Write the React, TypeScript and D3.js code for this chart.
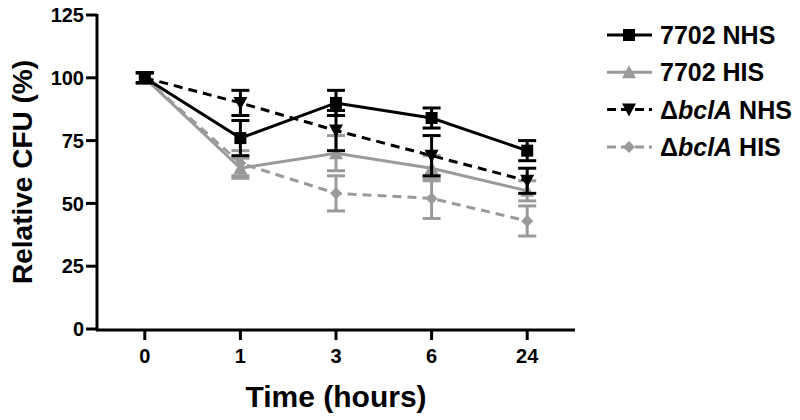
import React from 'react';
import * as d3 from 'd3';

const TIMES = ['0', '1', '3', '6', '24'];
const Y_TICKS = [0, 25, 50, 75, 100, 125];

const NHS_7702 = [100, 76, 90, 84, 71];
const NHS_7702_ERR = [2, 7, 5, 4, 4];
const HIS_7702 = [100, 64, 70, 64, 55];
const HIS_7702_ERR = [2, 4, 7, 5, 4];
const NHS_BCLA = [100, 90, 79, 69, 59];
const NHS_BCLA_ERR = [2, 5, 8, 8, 5];
const HIS_BCLA = [100, 66, 54, 52, 43];
const HIS_BCLA_ERR = [2, 5, 7, 8, 6];

const FONT = 'Arial, "Liberation Sans", Helvetica, sans-serif';
const GRAY = '#9a9a9a';

const SERIES = [
  { key: 'hisB', values: HIS_BCLA, err: HIS_BCLA_ERR, color: GRAY, dash: '9,6', marker: 'diamond', prefix: true, label: ' HIS' },
  { key: 'his7', values: HIS_7702, err: HIS_7702_ERR, color: GRAY, dash: null, marker: 'triangle', prefix: false, label: '7702 HIS' },
  { key: 'nhsB', values: NHS_BCLA, err: NHS_BCLA_ERR, color: '#000', dash: '9,6', marker: 'triangleDown', prefix: true, label: ' NHS' },
  { key: 'nhs7', values: NHS_7702, err: NHS_7702_ERR, color: '#000', dash: null, marker: 'square', prefix: false, label: '7702 NHS' },
];
const LEGEND_ORDER = ['nhs7', 'his7', 'nhsB', 'hisB'];

const X0 = 97, X1 = 575, Y0 = 329, Y1 = 15;

const x = d3.scalePoint<string>().domain(TIMES).range([X0, X1]).padding(0.5);
const y = d3.scaleLinear().domain([0, 125]).range([Y0, Y1]);

const Marker = ({ type, cx, cy, color }: { type: string; cx: number; cy: number; color: string }) => {
  if (type === 'square') return <rect x={cx - 6} y={cy - 6} width={12} height={12} fill={color} />;
  if (type === 'triangle') return <path d={`M${cx},${cy - 7}L${cx + 7},${cy + 6}L${cx - 7},${cy + 6}Z`} fill={color} />;
  if (type === 'triangleDown') return <path d={`M${cx},${cy + 7}L${cx + 7},${cy - 6}L${cx - 7},${cy - 6}Z`} fill={color} />;
  return <path d={`M${cx},${cy - 6}L${cx + 6},${cy}L${cx},${cy + 6}L${cx - 6},${cy}Z`} fill={color} />;
};

export default function App() {
  const line = d3.line<number>().x((_, i) => x(TIMES[i]) as number).y((d) => y(d));
  return (
    <svg width={800} height={420} style={{ position: 'absolute', left: 0, top: 0, background: '#fff' }} fontFamily={FONT}>
      {/* series */}
      {SERIES.map((s) => (
        <g key={s.key}>
          {s.values.map((v, i) => {
            const cx = x(TIMES[i]) as number;
            const lo = y(v - s.err[i]);
            const hi = y(v + s.err[i]);
            return (
              <g key={i} stroke={s.color} strokeWidth={3}>
                <line x1={cx} x2={cx} y1={lo} y2={hi} />
                <line x1={cx - 9} x2={cx + 9} y1={lo} y2={lo} />
                <line x1={cx - 9} x2={cx + 9} y1={hi} y2={hi} />
              </g>
            );
          })}
          <path d={line(s.values) || ''} fill="none" stroke={s.color} strokeWidth={3} strokeDasharray={s.dash || undefined} />
          {s.values.map((v, i) => (
            <Marker key={i} type={s.marker} cx={x(TIMES[i]) as number} cy={y(v)} color={s.color} />
          ))}
        </g>
      ))}

      {/* y axis */}
      <line x1={X0} x2={X0} y1={Y1 - 1} y2={Y0 + 2} stroke="#000" strokeWidth={3} />
      {Y_TICKS.map((t) => (
        <g key={t}>
          <line x1={X0 - 11} x2={X0} y1={y(t)} y2={y(t)} stroke="#000" strokeWidth={3} />
          <text x={X0 - 13} y={y(t)} dy="0.36em" textAnchor="end" fontSize={20} fontWeight="bold">{t}</text>
        </g>
      ))}
      <text transform={`translate(32,${(Y0 + Y1) / 2}) rotate(-90)`} textAnchor="middle" fontSize={28} fontWeight="bold">Relative CFU (%)</text>

      {/* x axis */}
      <line x1={X0 - 1} x2={X1} y1={Y0 + 1} y2={Y0 + 1} stroke="#000" strokeWidth={3} />
      {TIMES.map((t) => (
        <g key={t}>
          <line x1={x(t)} x2={x(t)} y1={Y0} y2={Y0 + 11} stroke="#000" strokeWidth={3} />
          <text x={x(t)} y={Y0 + 27} dy="0.36em" textAnchor="middle" fontSize={20} fontWeight="bold">{t}</text>
        </g>
      ))}
      <text x={(X0 + X1) / 2} y={407} textAnchor="middle" fontSize={30} fontWeight="bold">Time (hours)</text>

      {/* legend */}
      {LEGEND_ORDER.map((k, i) => {
        const s = SERIES.find((d) => d.key === k)!;
        const ly = 35 + i * 37.3;
        return (
          <g key={k}>
            <line x1={607} x2={652} y1={ly} y2={ly} stroke={s.color} strokeWidth={3} strokeDasharray={s.dash ? '9,5' : undefined} />
            <Marker type={s.marker} cx={629} cy={ly} color={s.color} />
            <text x={660} y={ly} dy="0.36em" fontSize={25} fontWeight="bold">
              {s.prefix ? (
                <>
                  <tspan>Δ</tspan>
                  <tspan fontStyle="italic">bclA</tspan>
                  {s.label}
                </>
              ) : s.label}
            </text>
          </g>
        );
      })}
    </svg>
  );
}
